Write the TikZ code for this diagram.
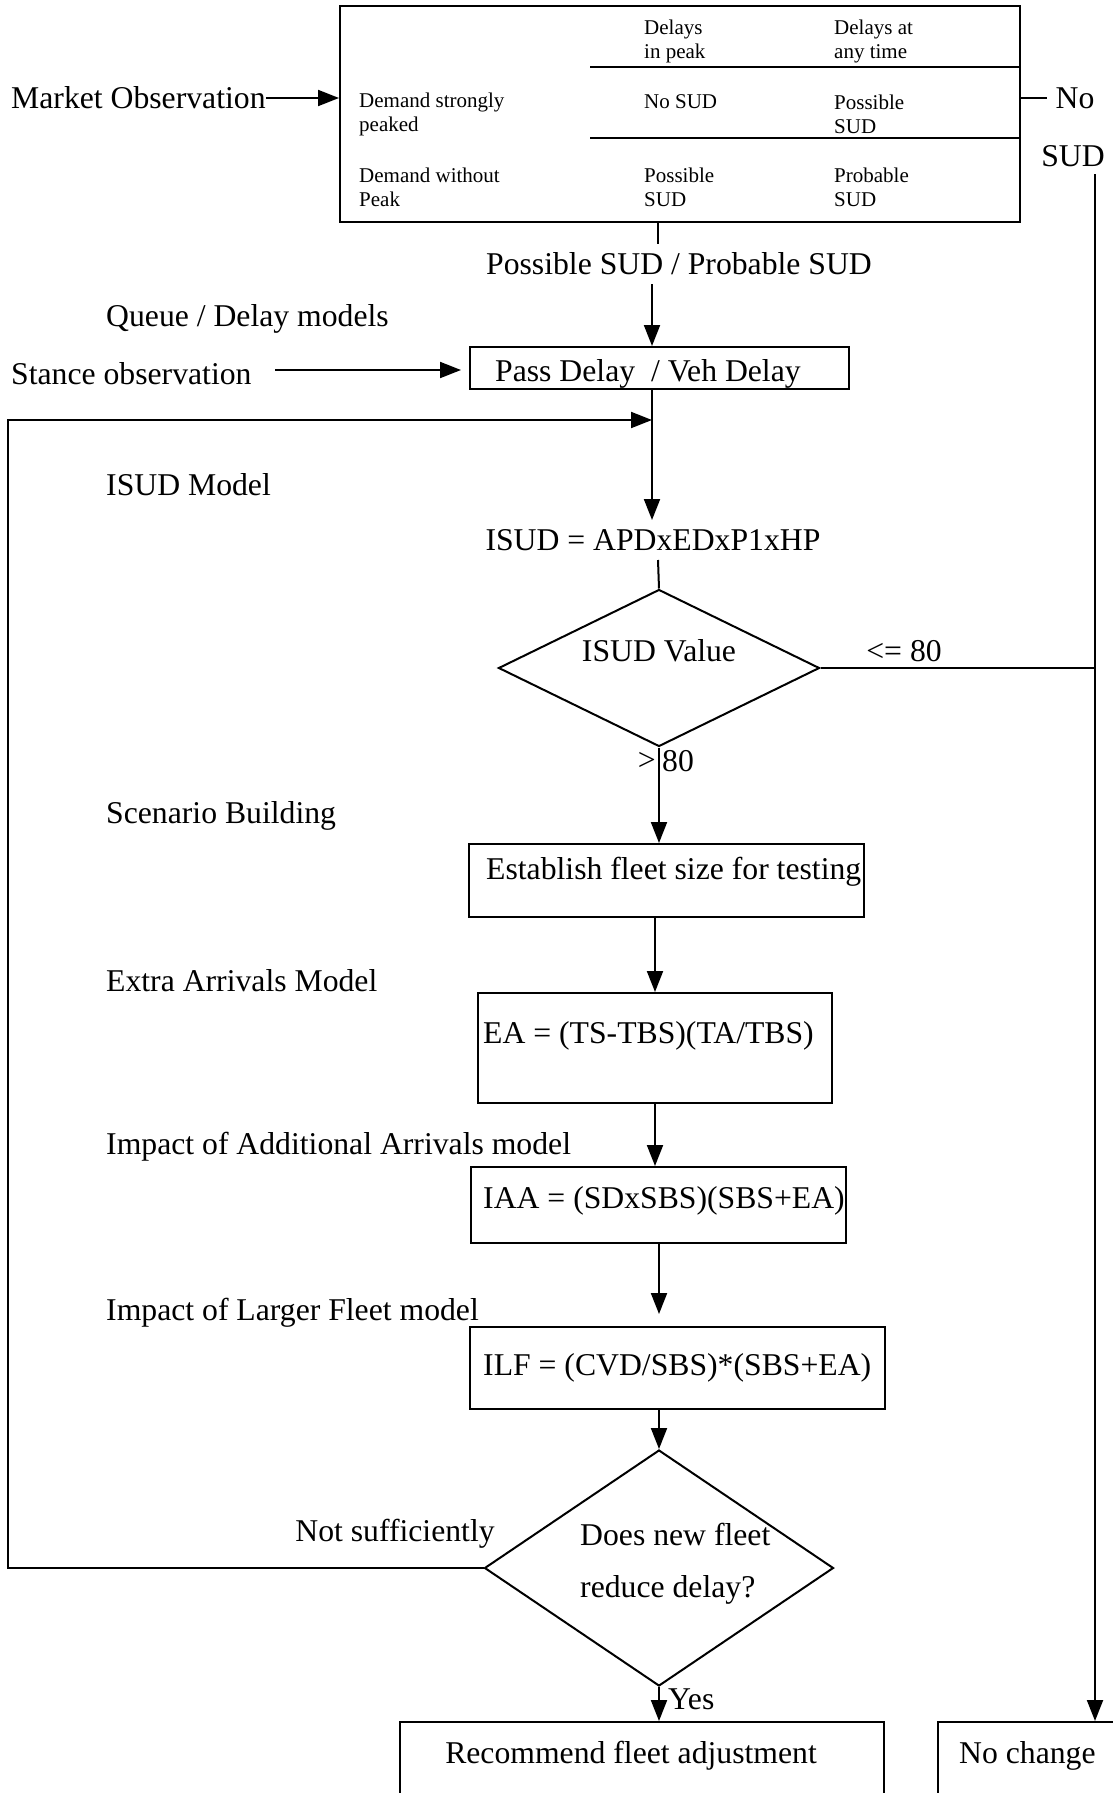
\documentclass[tikz,border=0pt]{standalone}
\usepackage{fontspec}
\setmainfont{Liberation Serif}
\usetikzlibrary{arrows.meta,shapes.geometric,calc}
\begin{document}
\begin{tikzpicture}[x=1pt,y=-1pt,
  big/.style={font=\fontsize{31.7}{36}\selectfont, inner sep=0pt},
  small/.style={font=\fontsize{21}{24}\selectfont, inner sep=0pt, align=left, anchor=west},
  ln/.style={line width=2pt},
  arr/.style={ln, -{Triangle[length=21pt,width=16pt]}},
  boxn/.style={draw, line width=2pt, rectangle, inner sep=0pt},
  dia/.style={draw, line width=2pt, diamond, inner sep=0pt},
]
\useasboundingbox (0,0) rectangle (1113,1793);
\clip (0,0) rectangle (1113,1793);

% ---- table
\node[boxn, minimum width=680pt, minimum height=216pt] (tab) at (680,114) {};
\draw[ln] (590,67.5) -- (1020,67.5);
\draw[ln] (590,138) -- (1020,138);
\node[small] (h1) at (644,41) {Delays\\in peak};
\node[small] (h2) at (834,41) {Delays at\\any time};
\node[small] (r1) at (359,114) {Demand strongly\\peaked};
\node[small] (c11) at (644,102) {No SUD};
\node[small] (c12) at (834,114) {Possible\\SUD};
\node[small] (r2) at (359,187) {Demand without\\Peak};
\node[small] (c21) at (644,187) {Possible\\SUD};
\node[small] (c22) at (834,187) {Probable\\SUD};

\node[big, anchor=west] (mo) at (11,98) {Market Observation};
\draw[arr] (mo.east) -- (tab.west |- mo.east);

\node[big] (no) at (1075,98) {No};
\node[big] (sud) at (1073,156) {SUD};
\draw[ln, shorten >=8pt] (tab.east |- no) -- (no.west);

% ---- possible/probable
\node[big] (ps) at (679,264) {Possible SUD / Probable SUD};
\coordinate (t1) at (658,222);
\coordinate (t2) at (658,244);
\draw[ln] (t1) -- (t2);
\coordinate (p1) at (652,284);

\node[boxn, minimum width=379pt, minimum height=42pt] (pass) at (659.5,368) {};
\node[big, anchor=west] (passt) at (495,374) {Pass Delay\ \ / Veh Delay};
\draw[arr] (p1) -- (p1 |- pass.north);

\node[big, anchor=west] (qd) at (106,319) {Queue / Delay models};
\node[big, anchor=west] (so) at (11,374) {Stance observation};
\coordinate (s1) at (275,370);
\coordinate (s2) at (461,370);
\draw[arr] (s1) -- (s2);

% ---- ISUD
\node[big, anchor=west] (im) at (106,485) {ISUD Model};
\node[big] (isudtxt) at (653,540) {ISUD = APDxEDxP1xHP};
\coordinate (lpc) at (652,420);
\coordinate (it) at (652,520);
\draw[arr] (pass.south -| lpc) -- (it);

\node[dia, minimum width=321pt, minimum height=157pt] (isudv) at (659,668) {};
\node[big] (isudvt) at (659,651) {ISUD Value};
\coordinate (d1) at (658,560);
\draw[ln] (d1) -- (isudv.north);

\node[big] (le) at (904,651) {<= 80};
\coordinate (rtop) at (1095,174);
\draw[ln] (isudv.east) -- (isudv.east -| rtop);

\node[big, anchor=east] (gt) at (656,761) {>};
\node[big, anchor=west] (e80) at (662,761) {80};

% ---- scenario
\node[big, anchor=west] (sb) at (106,816) {Scenario Building};
\node[boxn, minimum width=395pt, minimum height=73pt] (est) at (666.5,880.5) {};
\node[big, anchor=west] (estt) at (486,872) {Establish fleet size for testing};
\draw[arr] (isudv.south) -- (est.north -| isudv.south);

\node[big, anchor=west] (eam) at (106,981) {Extra Arrivals Model};
\node[boxn, minimum width=354pt, minimum height=110pt] (ea) at (655,1048) {};
\node[big, anchor=west] (eat) at (483,1036) {EA = (TS-TBS)(TA/TBS)};
\draw[arr] (est.south -| ea) -- (ea.north);

\node[big, anchor=west] (iam) at (106,1147) {Impact of Additional Arrivals model};
\node[boxn, minimum width=375pt, minimum height=76pt] (iaa) at (658.5,1205) {};
\node[big, anchor=west] (iaat) at (483,1201) {IAA = (SDxSBS)(SBS+EA)};
\draw[arr] (ea.south) -- (ea.south |- iaa.north);

\node[big, anchor=west] (ilm) at (106,1313) {Impact of Larger Fleet model};
\node[boxn, minimum width=415pt, minimum height=82pt] (ilf) at (677.5,1368) {};
\node[big, anchor=west] (ilft) at (483,1368) {ILF = (CVD/SBS)*(SBS+EA)};
\coordinate (a3) at (659,1314);
\draw[arr] (iaa.south -| a3) -- (a3);

% ---- decision
\node[dia, minimum width=349pt, minimum height=236pt] (dq) at (659,1568) {};
\node[big, anchor=west] (dqt1) at (580,1534) {Does new fleet};
\node[big, anchor=west] (dqt2) at (580,1590) {reduce delay?};
\draw[arr] (ilf.south -| dq) -- (dq.north);

\node[big] (ns) at (395,1534) {Not sufficiently};
\draw[arr] (dq.west) -- ++(-476,0) |- (lpc);

\node[big, anchor=west] (yes) at (668,1699) {Yes};

\node[boxn, minimum width=484pt, minimum height=78pt] (rec) at (642,1761) {};
\node[big] (rect) at (631,1756) {Recommend fleet adjustment};
\draw[arr] (dq.south) -- (dq.south |- rec.north);

\node[boxn, minimum width=187pt, minimum height=78pt] (noch) at (1031.5,1761) {};
\node[big, anchor=west] (nocht) at (959,1756) {No change};
\draw[arr] (rtop) -- (rtop |- noch.north);
\end{tikzpicture}
\end{document}
